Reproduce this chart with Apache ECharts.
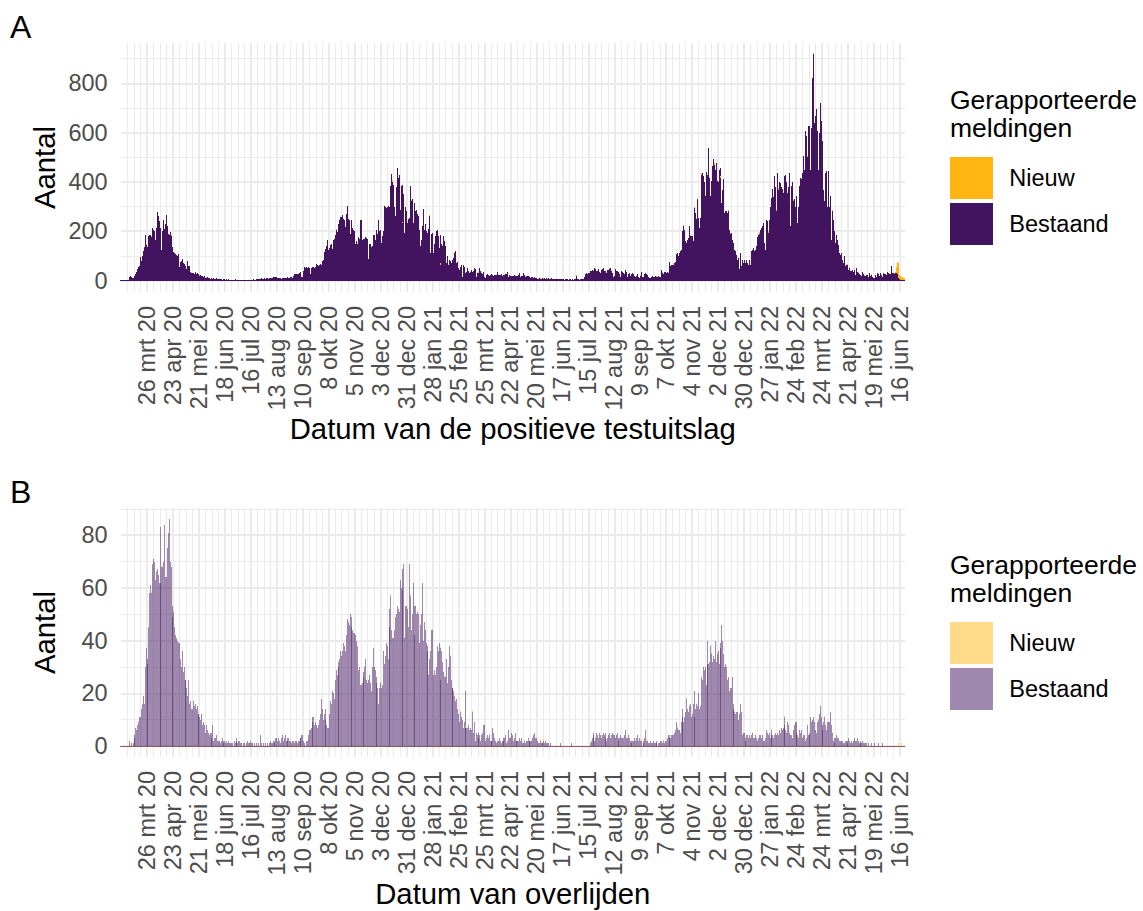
<!DOCTYPE html>
<html>
<head>
<meta charset="utf-8">
<script src="https://cdn.jsdelivr.net/npm/echarts@6/dist/echarts.min.js"></script>
<style>
  html, body { margin: 0; padding: 0; background: #ffffff; }
  #chart { width: 1143px; height: 911px; }
  /* one-day bars are narrower than a pixel: draw them without edge smoothing */
  #chart svg path { shape-rendering: crispEdges; }
</style>
</head>
<body>
<div id="chart"></div>
<script>
// Daily counts, first day 27 feb 2020, one row per week (Thursday .. Wednesday).
const startDate = Date.UTC(2020, 1, 27);

const tickLabels = [
  '26 mrt 20', '23 apr 20', '21 mei 20', '18 jun 20', '16 jul 20', '13 aug 20',
  '10 sep 20', '8 okt 20', '5 nov 20', '3 dec 20', '31 dec 20', '28 jan 21',
  '25 feb 21', '25 mrt 21', '22 apr 21', '20 mei 21', '17 jun 21', '15 jul 21',
  '12 aug 21', '9 sep 21', '7 okt 21', '4 nov 21', '2 dec 21', '30 dec 21',
  '27 jan 22', '24 feb 22', '24 mrt 22', '21 apr 22', '19 mei 22', '16 jun 22'
];

// A: cases by date of positive test, already reported ("Bestaand")
const bestaandTest = [
  [0,0,0,1,0,0,1], [2,3,15,17,14,12,10], [12,20,27,35,45,55,60], [95,80,100,120,135,183,145],
  [136,95,180,185,183,175,215], [205,200,165,215,277,260,240], [190,215,122,200,244,210,230], [265,220,190,183,197,180,136],
  [54,115,110,108,105,100,108], [54,75,80,88,70,68,60], [41,45,81,60,58,35,30], [30,32,28,34,27,30,25],
  [22,20,24,18,20,15,18], [12,10,14,9,11,8,12], [8,6,10,7,5,9,7], [6,8,5,7,4,6,8],
  [5,3,6,4,5,3,4], [3,4,2,3,5,2,3], [2,3,2,1,3,2,2], [3,2,4,2,3,1,2],
  [3,4,3,5,4,3,5], [6,5,8,7,6,9,7], [8,10,7,9,12,8,10], [9,12,10,14,11,13,16],
  [16,10,9,11,10,8,12], [11,9,12,10,8,13,10], [12,14,13,10,20,27,25], [28,27,25,30,34,20,15],
  [14,40,54,50,55,52,54], [50,27,52,55,53,56,52], [55,68,62,60,64,66,61], [81,85,115,100,129,140,163],
  [122,130,142,150,129,163,170], [185,203,195,217,230,244,258], [258,265,250,244,217,270,301], [250,244,190,230,244,215,203],
  [200,149,160,149,176,170,244], [244,163,170,163,168,176,172], [169,88,150,149,136,140,183], [183,163,170,203,190,244,200],
  [206,152,180,200,301,298,295], [300,301,260,300,382,434,400], [389,300,260,380,457,416,430], [284,382,233,389,350,192,300],
  [280,233,250,253,382,321,330], [233,315,300,280,287,270,260], [206,138,165,220,291,206,230], [199,111,192,210,260,111,190],
  [192,111,150,179,200,206,180], [131,64,186,150,138,179,160], [138,70,98,64,85,80,70], [84,70,90,111,118,70,75],
  [50,43,55,64,16,64,55], [23,30,35,50,40,30,35], [43,36,40,50,45,16,30], [23,30,50,40,30,25,35],
  [16,10,23,25,22,20,24], [22,25,23,20,24,22,23], [33,23,24,22,25,20,23], [24,22,25,28,36,16,22],
  [18,20,19,17,21,18,19], [18,20,22,30,16,18,20], [30,22,16,18,19,17,15], [14,12,13,15,11,13,12],
  [9,8,7,9,8,6,8], [9,8,10,7,9,8,10], [8,7,9,6,7,5,7], [6,7,5,8,6,7,5],
  [5,6,4,5,6,4,5], [4,5,6,4,5,3,5], [5,19,5,6,4,5,6], [5,6,8,16,25,30,28],
  [30,32,37,40,43,37,35], [50,45,37,40,46,33,30], [43,45,50,40,37,35,30], [42,43,48,50,37,30,16],
  [20,46,40,37,33,30,28], [16,37,35,30,28,41,35], [16,25,30,20,16,28,30], [25,19,13,20,26,15,9],
  [20,33,15,9,16,25,30], [28,23,15,9,12,16,19], [15,13,19,20,16,14,18], [16,15,43,30,25,36,33],
  [30,33,30,64,77,60,64], [62,64,70,75,108,111,98], [110,118,125,130,199,220,206], [159,152,165,172,220,179,180],
  [179,159,206,294,274,250,331], [255,213,253,430,437,423,400], [341,441,396,427,537,416,341], [403,464,491,470,450,477,403],
  [400,450,457,416,314,369,412], [274,280,281,274,281,206,190], [192,165,152,138,125,118,104], [84,90,46,111,57,84,70],
  [84,73,64,84,70,64,84], [64,120,125,131,118,125,138], [176,125,186,190,206,213,220], [233,152,125,247,240,193,247],
  [300,321,335,371,340,423,380], [280,437,369,400,396,380,370], [355,247,423,430,400,355,380], [437,220,382,400,321,330,300],
  [179,341,233,300,382,416,410], [437,504,450,606,586,500,626], [626,560,450,620,823,917,640], [667,694,606,450,600,721,647],
  [565,520,369,321,437,444,300], [444,300,341,165,281,247,200], [200,152,186,165,145,110,104], [111,84,70,98,60,64,45],
  [64,43,50,37,40,43,35], [43,23,50,35,30,25,23], [23,19,33,25,19,20,23], [23,16,30,19,22,15,10],
  [9,12,23,16,30,25,20], [30,23,16,30,25,28,22], [23,35,30,28,25,59,30], [30,28,30,30,25,15,10],
  [5,3,2,1,1,0]
].flat();

// A: newly reported cases ("Nieuw"), as [day number, count]; all other days 0
const nieuwTest = [
  [27,5],[33,4],[54,4],[85,3],[92,3],[232,4],[285,5],[293,6],[303,4],[313,5],[333,4],[344,5],
  [360,4],[384,4],[441,3],[446,3],[452,3],[456,2],[465,2],[491,3],[501,3],[509,4],[516,3],[527,4],
  [538,3],[560,3],[578,3],[584,4],[607,5],[614,5],[619,4],[626,6],[630,5],[640,6],[644,5],[647,6],
  [655,5],[657,4],[689,5],[698,6],[707,5],[709,6],[725,5],[740,5],[747,6],[767,5],[784,4],[786,3],
  [795,3],[802,3],[809,3],[823,3],[834,2],[835,6],[836,26],[837,51],[838,55],[839,40],[840,17],
  [841,15],[842,13],[843,12],[844,11],[845,10]
];

// B: deaths by date of death, already reported ("Bestaand")
const bestaandOverl = [
  [0,0,0,0,0,0,0], [0,0,2,0,1,0,1], [3,4,7,6,8,9,11], [11,14,16,19,16,30,37],
  [33,31,45,58,61,58,69], [71,70,63,66,67,65,62], [62,83,68,68,70,84,64], [64,75,81,86,70,68,53],
  [49,51,45,42,41,40,39], [39,33,30,36,28,30,25], [25,22,19,25,16,17,14], [14,17,15,16,14,15,12],
  [12,11,10,12,8,9,8], [5,8,6,5,4,5,3], [5,8,2,3,3,4,2], [2,2,1,2,3,2,1],
  [2,1,2,1,2,1,1], [1,1,0,2,1,2,3], [1,2,2,1,1,0,1], [1,0,1,2,1,1,0],
  [2,1,1,0,1,0,1], [0,1,0,4,0,1,0], [1,0,1,0,1,0,1], [2,1,1,2,1,2,3],
  [3,2,3,2,1,3,4], [2,3,4,2,3,2,3], [2,2,1,2,2,1,2], [2,1,2,2,3,3,4],
  [4,2,1,0,2,2,4], [6,6,7,9,11,11,8], [9,8,7,8,10,12,18], [14,10,12,14,10,8,7],
  [7,12,17,16,21,20,18], [25,29,27,32,30,33,36], [34,36,39,38,36,42,48], [47,46,50,49,45,44,43],
  [43,42,40,38,29,30,23], [23,24,26,28,30,33,25], [24,25,27,24,21,30,37], [30,29,26,24,22,16,22],
  [24,22,23,36,31,34,39], [38,33,45,52,57,44,41], [41,44,49,50,53,52,51], [63,60,67,59,69,41,53],
  [53,52,45,69,57,44,50], [62,42,53,53,50,51,50], [39,46,50,62,40,47,44], [39,38,36,27,33,36,44],
  [44,27,29,27,30,38,36], [39,37,25,36,32,28,26], [26,33,24,30,38,34,25], [22,22,21,19,17,18,14],
  [12,9,13,11,10,7,9], [7,21,7,7,8,6,7], [6,13,5,9,2,5,4], [5,3,4,2,4,5,8],
  [8,2,3,4,3,4,2], [2,2,7,5,3,2,1], [2,2,3,2,1,2,2], [3,3,4,1,2,6,3],
  [3,5,4,2,3,5,2], [2,2,2,3,2,3,1], [1,2,1,2,2,3,2], [2,2,2,3,4,5,3],
  [3,2,1,1,2,1,1], [1,2,1,2,1,1,1], [0,1,0,0,0,0,0], [0,0,0,0,0,1,0],
  [0,0,0,0,0,0,0], [0,0,0,1,0,0,0], [0,0,0,0,0,0,0], [0,0,0,0,0,0,0],
  [0,0,1,2,3,4,5], [2,3,5,4,3,5,4], [3,4,5,4,5,3,2], [3,4,5,3,4,5,4],
  [4,3,4,5,3,2,3], [4,3,3,3,4,6,3], [3,4,3,2,2,1,2], [2,3,2,3,4,2,3],
  [2,2,0,1,2,3,6], [2,2,1,1,2,1,1], [2,1,1,2,1,0,1], [1,2,2,1,2,1,2],
  [2,3,4,3,4,3,4], [4,4,5,6,9,7,6], [6,5,9,11,14,9,11], [13,18,14,13,15,16,11],
  [12,16,21,11,14,16,15], [20,14,15,26,25,30,29], [30,23,40,31,31,32,38], [35,32,34,33,40,32,35],
  [36,31,39,37,46,40,35], [30,31,30,25,26,21,22], [22,26,16,14,13,12,13], [13,10,12,16,13,4,5],
  [5,3,2,4,4,3,4], [3,4,5,3,3,4,3], [2,0,3,4,4,3,4], [2,2,3,6,5,4,5],
  [3,4,6,4,3,4,5], [4,5,4,6,5,7,6], [7,11,8,6,5,9,8], [5,4,4,3,6,8,9],
  [9,5,4,3,6,5,6], [3,4,4,2,3,8,4], [4,5,11,9,10,11,9], [6,5,9,10,12,15,11],
  [8,6,9,11,8,6,9], [9,9,13,8,5,2,1], [3,3,4,3,3,2,2], [2,2,1,1,2,2,1],
  [2,3,2,1,2,1,2], [3,2,2,3,2,1,2], [1,1,2,1,1,1,1], [0,1,0,0,1,0,0],
  [0,1,0,0,0,1,0], [0,0,1,0,0,0,0], [0,0,0,0,0,0,0], [0,0,0,0,0,0,0],
  [0,0,0,0,0,0]
].flat();

// B: newly reported deaths ("Nieuw"), as [day number, count]; all other days 0
const nieuwOverl = [
  [23,0.5],[33,0.5],[38,0.5],[45,0.5],[57,0.5],[62,0.5],[78,0.5],[90,0.5],[280,0.5],[291,0.5],
  [306,0.5],[312,0.5],[316,0.5],[320,0.5],[323,0.5],[328,0.5],[332,0.5],[336,0.5],[344,0.5],
  [349,0.5],[355,0.5],[358,0.5],[366,0.5],[371,0.5],[379,0.5],[385,0.5],[392,0.5],[397,0.5],
  [413,0.5],[420,0.5],[452,0.5],[454,0.5],[456,0.5],[475,0.5],[487,0.5],[509,0.5],[524,0.5],
  [531,0.5],[545,0.5],[560,0.5],[567,0.5],[585,0.5],[600,0.5],[610,0.5],[616,0.5],[621,0.5],
  [633,0.5],[637,0.5],[643,0.5],[647,0.5],[654,0.5],[662,0.5],[674,0.5],[681,0.5],[702,0.5],
  [715,0.5],[731,0.5],[738,0.5],[745,0.5],[752,0.5],[759,0.5],[767,0.5],[838,1],[842,1]
];

// ---- derived tables -------------------------------------------------------
const days = bestaandTest.map((_, i) =>
  new Date(startDate + i * 86400000).toISOString().slice(0, 10));
const n = days.length;

function fullSeries(pairs) {
  const out = new Array(n).fill(0);
  pairs.forEach(([i, v]) => { out[i] = v; });
  return out;
}

// ---- styling --------------------------------------------------------------
const FONT = '"Liberation Sans", Arial, Helvetica, sans-serif';
const PURPLE = '#42145F';
const YELLOW = '#FFB612';
const PURPLE_SOFT = 'rgba(66,20,95,0.5)';
const YELLOW_SOFT = 'rgba(255,182,18,0.5)';
const GRID = '#EBEBEB';
const NONE = 'rgba(0,0,0,0)';
const MAJOR_W = 2.4;
const MINOR_W = 1.3;
const AXIS_TEXT = '#4D4D4D';

const L = 120.6;               // panel left edge
const R = 1143 - 905;          // space right of the panel
const band = (1143 - L - R) / n;
const half = band / 2;

// split line colours per tick: hide the lines on the panel edges
function edgeHidden(count) {
  return Array.from({ length: count }, (_, j) => (j === 0 || j === count - 1) ? NONE : GRID);
}
const weekTicks = Math.floor((n - 1) / 7) + 2;
const monthTicks = Math.floor((n - 1) / 28) + 2;

function dateLabel(v) {
  const k = v / 28 - 1;
  return Number.isInteger(k) && tickLabels[k] ? tickLabels[k] : '';
}

function panelAxes(gridData, gridBg, yMax, yMajor, yMinor, baseColor) {
  const majorCount = Math.floor(yMax / yMajor) + 2;
  const xs = [
    { gridIndex: gridData, type: 'category', data: days, boundaryGap: true, position: 'bottom', z: 3,
      axisLine: { show: true, lineStyle: { color: baseColor, width: 1 } },
      axisTick: { show: false }, axisLabel: { show: false }, splitLine: { show: false } },
    { gridIndex: gridBg, type: 'value', position: 'top', min: 0, max: n - 1, interval: 7,
      axisLine: { show: false }, axisTick: { show: false }, axisLabel: { show: false },
      splitLine: { show: true, lineStyle: { color: edgeHidden(weekTicks), width: MINOR_W } } },
    { gridIndex: gridBg, type: 'value', position: 'bottom', min: 0, max: n - 1, interval: 28,
      axisLine: { show: false }, axisTick: { show: false },
      axisLabel: { show: true, rotate: 90, margin: 14, fontSize: 23.5, color: AXIS_TEXT,
                   fontFamily: FONT, formatter: dateLabel },
      splitLine: { show: true, lineStyle: { color: edgeHidden(monthTicks), width: MAJOR_W } } }
  ];
  const majorColors = Array.from({ length: majorCount }, (_, j) => j === majorCount - 1 ? NONE : GRID);
  const ys = [
    { gridIndex: gridData, type: 'value', position: 'left', min: 0, max: yMax, interval: yMajor,
      axisLine: { show: false }, axisTick: { show: false },
      axisLabel: { margin: 13, fontSize: 23.5, color: AXIS_TEXT, fontFamily: FONT,
                   formatter: v => (v % yMajor === 0 ? String(v) : '') },
      splitLine: { show: true, lineStyle: { color: majorColors, width: MAJOR_W } } },
    { gridIndex: gridData, type: 'value', position: 'right', min: 0, max: yMax, interval: yMinor,
      axisLine: { show: false }, axisTick: { show: false }, axisLabel: { show: false },
      splitLine: { show: true, lineStyle: { color: [NONE, GRID], width: MINOR_W } } },
    { gridIndex: gridBg, type: 'value', show: false, min: 0, max: 1, splitLine: { show: false } }
  ];
  return { xs, ys };
}

const pA = panelAxes(0, 1, 963.5, 200, 100, PURPLE);
const pB = panelAxes(2, 3, 90.3, 20, 10, '#8E5A5E');

function text(str, x, y, size, extra) {
  return Object.assign({
    type: 'text', x, y, silent: true,
    style: { text: str, fontSize: size, fontFamily: FONT, fill: '#000000',
             align: 'left', verticalAlign: 'middle' }
  }, extra || {});
}
function centred(str, x, y, size, rot) {
  const t = text(str, x, y, size, rot ? { rotation: rot } : null);
  t.style.align = 'center';
  return t;
}

function panelTexts(dy, xTitle) {
  return [
    text(dy === 0 ? 'A' : 'B', 10, 27 + dy, 32),
    centred('Aantal', 44.6, 167.5 + dy, 29.3, Math.PI / 2),
    centred(xTitle, 512.8, 428.5 + dy, 29.3),
    text('Gerapporteerde', 950, 99.5 + dy, 26.5),
    text('meldingen', 950, 127.5 + dy, 26.5)
  ];
}

function legendFor(names, top) {
  return {
    data: names, orient: 'vertical', left: 950, top: top, padding: 0,
    itemWidth: 42.7, itemHeight: 42.7, itemGap: 3.3, icon: 'rect', selectedMode: false,
    formatter: nm => nm.split(' ')[0],
    textStyle: { fontSize: 23.5, color: '#000000', fontFamily: FONT, padding: [6, 0, 0, 11.6] }
  };
}

// one bar per day; a hair wider than a day, so the half-strength bars of
// panel B overlap now and then
function bars(name, xi, yi, stack, data, color) {
  return {
    name, type: 'bar', xAxisIndex: xi, yAxisIndex: yi, stack, data,
    barWidth: band + 0.07, itemStyle: { color }, emphasis: { disabled: true }
  };
}

const option = {
  animation: false,
  backgroundColor: '#ffffff',
  textStyle: { fontFamily: FONT },
  grid: [
    { left: L, right: R, top: 43, height: 237.5 },
    { left: L + half, right: R + half, top: 43, height: 249 },
    { left: L, right: R, top: 508, height: 238 },
    { left: L + half, right: R + half, top: 508, height: 249 }
  ],
  xAxis: pA.xs.concat(pB.xs),
  yAxis: pA.ys.concat(pB.ys),
  legend: [
    legendFor(['Nieuw A', 'Bestaand A'], 156.7),
    legendFor(['Nieuw B', 'Bestaand B'], 621.7)
  ],
  series: [
    bars('Bestaand A', 0, 0, 'A', bestaandTest, PURPLE),
    bars('Nieuw A', 0, 0, 'A', fullSeries(nieuwTest), YELLOW),
    bars('Bestaand B', 3, 3, 'B', bestaandOverl, PURPLE_SOFT),
    bars('Nieuw B', 3, 3, 'B', fullSeries(nieuwOverl), YELLOW_SOFT)
  ],
  graphic: panelTexts(0, 'Datum van de positieve testuitslag')
    .concat(panelTexts(465, 'Datum van overlijden'))
};

const chart = echarts.init(document.getElementById('chart'), null, { renderer: 'svg' });
chart.setOption(option);
</script>
</body>
</html>
